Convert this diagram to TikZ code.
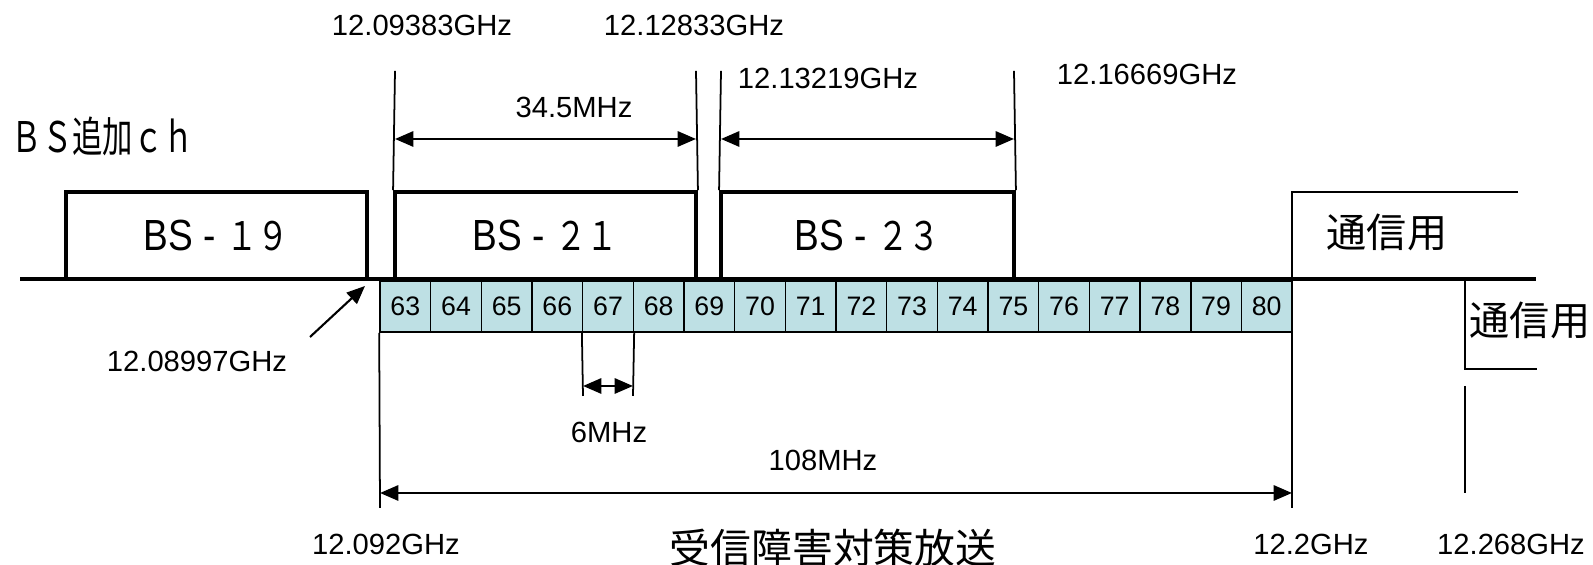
\documentclass[tikz,border=0pt]{standalone}
\usepackage{fontspec}
\setmainfont{Liberation Sans}
\newfontfamily\cjk{Noto Sans CJK JP}
\newfontfamily\cjkn[FakeStretch=0.8]{Noto Sans CJK JP}
\newfontfamily\cjkc[FakeStretch=0.72]{Noto Sans CJK JP}
\newfontfamily\sansn[FakeStretch=0.85]{Liberation Sans}
\usetikzlibrary{arrows.meta, positioning, calc}
\definecolor{chanfill}{RGB}{190,224,228}
\newcommand{\bandnum}[1]{{\fontsize{11.2}{12}\cjkn #1}}
\tikzset{
  bandbox/.style={draw, line width=1.05pt, inner sep=0pt,
                  minimum height=0.87cm, font=\fontsize{12.4}{13}\sansn},
  chbox/.style  ={draw, line width=0.45pt, fill=chanfill, inner sep=0pt,
                  minimum width=0.5067cm, minimum height=0.51cm,
                  font=\fontsize{7.6}{9}\selectfont},
  freq/.style   ={font=\fontsize{8.3}{9}\selectfont, inner sep=0pt},
  jplbl/.style  ={font=\fontsize{11.4}{13}\cjk, inner sep=0pt},
  baseln/.style ={line width=1.05pt},
  ext/.style    ={line width=0.5pt},
  dimarr/.style ={{Triangle[length=5.2pt,width=4.3pt]}-{Triangle[length=5.2pt,width=4.3pt]},
                  line width=0.7pt},
  arr/.style    ={-{Triangle[length=5.2pt,width=4.3pt]}, line width=0.6pt},
}

\begin{document}
\begin{tikzpicture}[x=0.01cm, y=-0.01cm]
\useasboundingbox (0,0) rectangle (1593,565);

% frequency axis
\coordinate (axl) at (20,279);
\coordinate (axr) at (1536,279);
\draw[baseln] (axl) -- (axr);

% BS bands
\node[bandbox, minimum width=3.01cm] (bs19) at (216.5,235.5) {BS - \bandnum{１９}};
\node[bandbox, minimum width=3.01cm] (bs21) at (545.5,235.5) {BS - \bandnum{２１}};
\node[bandbox, minimum width=2.93cm] (bs23) at (867.5,235.5) {BS - \bandnum{２３}};

\node[anchor=west, inner sep=0pt, font=\fontsize{12}{13}\cjkc] (addch) at (11,136) {ＢＳ追加ｃｈ};

% channels 63..80
\foreach \n [count=\i from 0] in {63,...,80}
  \node[chbox] (c\n) at ({380+50.67*(\i+0.5)},306.5) {\n};

% communication bands
\coordinate (ua) at (1518,192);
\coordinate (ub) at (1292,192);
\coordinate (uc) at (1292,508);
\draw[ext] (ua) -- (ub) -- (uc);
\node[jplbl] (com1) at (1387,232) {通信用};

\coordinate (la) at (1465,279);
\coordinate (lb) at (1465,369);
\coordinate (lc) at (1537,369);
\draw[ext] (la) -- (lb) -- (lc);
\node[jplbl] (com2) at (1530,320) {通信用};
\coordinate (sa) at (1465,386);
\coordinate (sb) at (1465,493);
\draw[ext] (sa) -- (sb);

% upper dimensions
\coordinate (t21l) at (395,71);
\coordinate (t21r) at (696,71);
\coordinate (t23l) at (721,71);
\coordinate (t23r) at (1014,71);
\draw[ext] (bs21.north west) -- (t21l);
\draw[ext] (bs21.north east) -- (t21r);
\draw[ext] (bs23.north west) -- (t23l);
\draw[ext] (bs23.north east) -- (t23r);
\coordinate (d21l) at (395,139);
\coordinate (d21r) at (696,139);
\coordinate (d23l) at (721,139);
\coordinate (d23r) at (1014,139);
\draw[dimarr] (d21l) -- (d21r);
\draw[dimarr] (d23l) -- (d23r);

\node[freq] (f1) at (422,25)  {12.09383GHz};
\node[freq] (f2) at (694,25)  {12.12833GHz};
\node[freq] (f3) at (828,78)  {12.13219GHz};
\node[freq] (f4) at (1147,74) {12.16669GHz};
\node[freq] (w21) at (574,107) {34.5MHz};

% pointer to band edge
\node[freq] (f0) at (197,361) {12.08997GHz};
\coordinate (ptail) at (310,337);
\coordinate (ptip) at (365,286);
\draw[arr] (ptail) -- (ptip);

% channel width
\coordinate (e67l) at (583,396);
\coordinate (e67r) at (633,396);
\draw[ext] (c67.south west) -- (e67l);
\draw[ext] (c67.south east) -- (e67r);
\coordinate (d67l) at (583,386);
\coordinate (d67r) at (633,386);
\draw[dimarr] (d67l) -- (d67r);
\node[freq] (w67) at (609,432) {6MHz};

% total width
\coordinate (e108l) at (380,508);
\draw[ext] (c63.south west) -- (e108l);
\coordinate (d108l) at (380,493);
\coordinate (d108r) at (1292,493);
\draw[dimarr] (d108l) -- (d108r);
\node[freq] (w108) at (823,460) {108MHz};

% bottom labels
\node[freq] (f5) at (386,544)  {12.092GHz};
\node[freq] (f6) at (1311,544) {12.2GHz};
\node[freq] (f7) at (1511,544) {12.268GHz};
\node[jplbl, font=\fontsize{11.6}{13}\cjk] (title) at (833,548) {受信障害対策放送};

\end{tikzpicture}
\end{document}
